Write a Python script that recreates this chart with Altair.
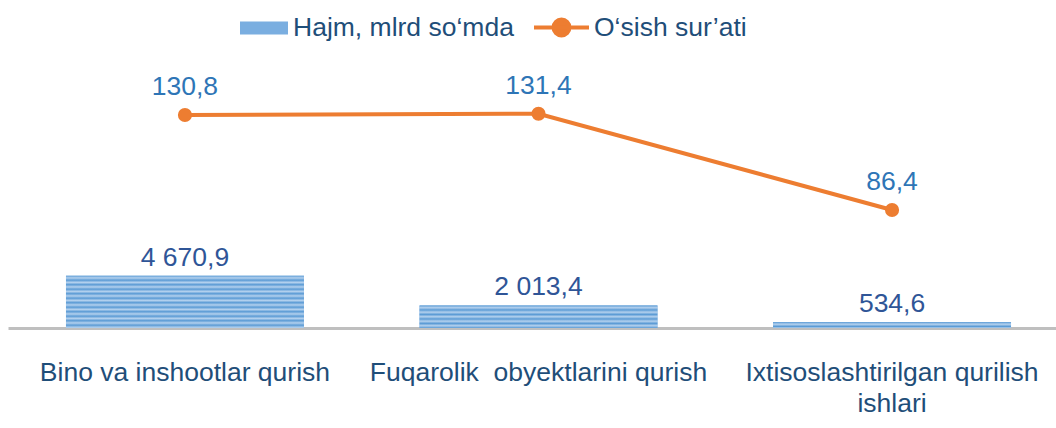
import altair as alt
import pandas as pd

categories = ["Bino va inshootlar qurish",
              "Fuqarolik\u00a0 obyektlarini qurish",
              "Ixtisoslashtirilgan qurilish ishlari"]
volume = [4670.9, 2013.4, 534.6]
growth = [130.8, 131.4, 86.4]
series_bar = "Hajm, mlrd so\u2018mda"
series_line = "O\u2018sish sur\u2019ati"

df = pd.DataFrame({"cat": categories, "vol": volume, "gr": growth})

FONT = "Liberation Sans"
FS = 26.5
BAR_DOMAIN = [0, 25000]
LINE_DOMAIN = [31.3, 162.1]
PLOT_H = 280
PLOT_W = 1048
ORANGE = "#ED7D31"
DARK = "#5B9BD5"
LIGHT = "#B4D1EE"


def stripes(h_px, period=4.5):
    stops = []
    half = period / 2.0
    k = 0
    while True:
        off = min(1.0, k * half / h_px)
        stops.append(alt.GradientStop(offset=off, color=DARK if k % 2 == 0 else LIGHT))
        if off >= 1.0:
            break
        k += 1
    return alt.Gradient(gradient="linear", stops=stops, x1=0, x2=0, y1=0, y2=1)


x_axis = alt.Axis(
    labelAngle=0, labelFont=FONT, labelFontSize=FS, labelColor="#1F4E79",
    labelLimit=500, labelPadding=31, ticks=False, tickSize=0,
    domainColor="#BFBFBF", domainWidth=3, grid=False,
    labelLineHeight=31,
    labelExpr="datum.value == 'Ixtisoslashtirilgan qurilish ishlari' ? "
              "['Ixtisoslashtirilgan qurilish', 'ishlari'] : datum.value",
)
x_scale = alt.Scale(paddingInner=0.327, paddingOuter=0.164, range=[0, 1061])
x_enc = alt.X("cat:N", sort=categories, title=None, scale=x_scale, axis=x_axis)
x_mid = alt.X("cat:N", sort=categories, title=None, bandPosition=0.5, scale=x_scale, axis=x_axis)

y_bar = alt.Y("vol:Q", scale=alt.Scale(domain=BAR_DOMAIN), axis=None, title=None)
y_line = alt.Y("gr:Q", scale=alt.Scale(domain=LINE_DOMAIN, zero=False), axis=None, title=None)

base = alt.Chart(df)

bars = base.mark_bar().encode(
    x=x_enc, y=y_bar,
    fill=alt.Fill("s:N", scale=alt.Scale(range=["#7AAEE0"]), legend=alt.Legend(
        title=None, orient="none", legendX=232, legendY=-44,
        symbolType="M-1,-0.27H1V0.27H-1Z", symbolSize=2304, symbolStrokeWidth=0,
        symbolOpacity=1,
        labelFont=FONT, labelFontSize=FS, labelColor="#1F4E79", labelOffset=5,
        padding=0, labelLimit=400,
    )),
).transform_calculate(s=f"'{series_bar}'")

overlays = []
for c, v in zip(categories, volume):
    h = v / BAR_DOMAIN[1] * PLOT_H
    overlays.append(
        base.transform_filter(alt.datum.cat == c).mark_bar(fill=stripes(h)).encode(x=x_enc, y=y_bar)
    )

bar_text = base.mark_text(font=FONT, fontSize=FS, color="#2F5597", baseline="alphabetic", dy=-10).encode(
    x=x_mid, y=y_bar, text="lbl:N"
).transform_calculate(lbl="replace(replace(format(datum.vol, ',.1f'), ',', ' '), '.', ',')")

line = base.mark_line(strokeWidth=4).encode(
    x=x_mid, y=y_line,
    stroke=alt.Stroke("s2:N", scale=alt.Scale(range=[ORANGE]), legend=alt.Legend(
        title=None, orient="none", legendX=524, legendY=-50,
        symbolType="M-1,0H1M-0.29,0A0.29,0.29,0,1,1,0.29,0A0.29,0.29,0,1,1,-0.29,0Z",
        symbolSize=3025, symbolStrokeWidth=4, symbolFillColor=ORANGE,
        labelFont=FONT, labelFontSize=FS, labelColor="#1F4E79", labelOffset=3,
        padding=0, labelLimit=400,
    )),
).transform_calculate(s2=f"'{series_line}'")

points = base.mark_circle(size=200, color=ORANGE, opacity=1).encode(x=x_mid, y=y_line)

line_text = base.mark_text(font=FONT, fontSize=FS, color="#2E75B6", baseline="alphabetic", dy=-20).encode(
    x=x_mid, y=y_line, text="lbl:N"
).transform_calculate(lbl="replace(format(datum.gr, '.1f'), '.', ',')")

chart = alt.layer(bars, *overlays, bar_text, line, points, line_text).resolve_scale(
    y="independent"
).properties(
    width=PLOT_W, height=PLOT_H,
    autosize=alt.AutoSizeParams(type="none"),
    padding={"left": 8, "top": 48, "right": 0, "bottom": 100},
).configure(font=FONT).configure_view(stroke=None)

chart.save("out.html", embed_options={"renderer": "svg", "actions": False})
